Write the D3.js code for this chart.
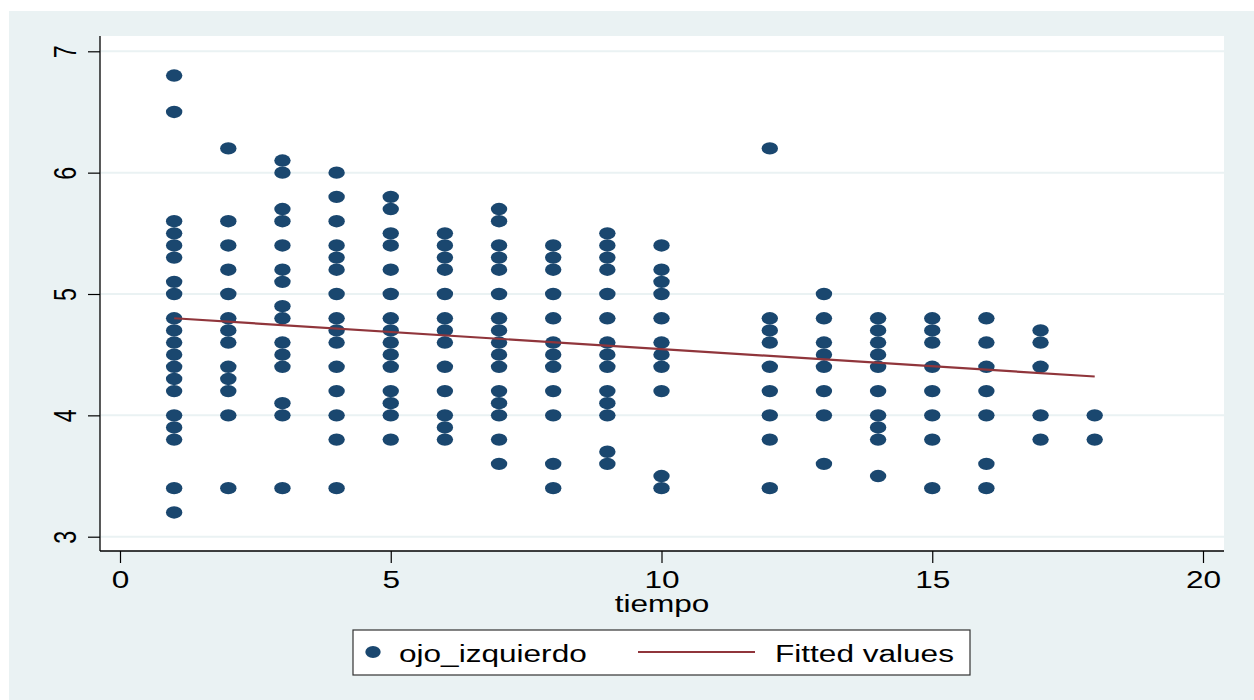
<!DOCTYPE html>
<html>
<head>
<meta charset="utf-8">
<script src="https://cdn.jsdelivr.net/npm/d3@7"></script>
<style>
  html, body { margin: 0; padding: 0; background: #ffffff; }
  svg { display: block; }
  text { font-family: "Liberation Sans", Arial, sans-serif; fill: #000; }
</style>
</head>
<body>
<svg id="chart" width="1254" height="700"></svg>
<script>
// ---- data ----
const tiempos = [1, 2, 3, 4, 5, 6, 7, 8, 9, 10, 12, 13, 14, 15, 16, 17, 18];
const ojoIzquierdo = [
  [6.8, 6.5, 5.6, 5.5, 5.4, 5.3, 5.1, 5.0, 4.8, 4.7, 4.6, 4.5, 4.4, 4.3, 4.2, 4.0, 3.9, 3.8, 3.4, 3.2],
  [6.2, 5.6, 5.4, 5.2, 5.0, 4.8, 4.7, 4.6, 4.4, 4.3, 4.2, 4.0, 3.4],
  [6.1, 6.0, 5.7, 5.6, 5.4, 5.2, 5.1, 4.9, 4.8, 4.6, 4.5, 4.4, 4.1, 4.0, 3.4],
  [6.0, 5.8, 5.6, 5.4, 5.3, 5.2, 5.0, 4.8, 4.7, 4.6, 4.4, 4.2, 4.0, 3.8, 3.4],
  [5.8, 5.7, 5.5, 5.4, 5.2, 5.0, 4.8, 4.7, 4.6, 4.5, 4.4, 4.2, 4.1, 4.0, 3.8],
  [5.5, 5.4, 5.3, 5.2, 5.0, 4.8, 4.7, 4.6, 4.4, 4.2, 4.0, 3.9, 3.8],
  [5.7, 5.6, 5.4, 5.3, 5.2, 5.0, 4.8, 4.7, 4.6, 4.5, 4.4, 4.2, 4.1, 4.0, 3.8, 3.6],
  [5.4, 5.3, 5.2, 5.0, 4.8, 4.6, 4.5, 4.4, 4.2, 4.0, 3.6, 3.4],
  [5.5, 5.4, 5.3, 5.2, 5.0, 4.8, 4.6, 4.5, 4.4, 4.2, 4.1, 4.0, 3.7, 3.6],
  [5.4, 5.2, 5.1, 5.0, 4.8, 4.6, 4.5, 4.4, 4.2, 3.5, 3.4],
  [6.2, 4.8, 4.7, 4.6, 4.4, 4.2, 4.0, 3.8, 3.4],
  [5.0, 4.8, 4.6, 4.5, 4.4, 4.2, 4.0, 3.6],
  [4.8, 4.7, 4.6, 4.5, 4.4, 4.2, 4.0, 3.9, 3.8, 3.5],
  [4.8, 4.7, 4.6, 4.4, 4.2, 4.0, 3.8, 3.4],
  [4.8, 4.6, 4.4, 4.2, 4.0, 3.6, 3.4],
  [4.7, 4.6, 4.4, 4.0, 3.8],
  [4.0, 3.8]
];
const fitX = [1, 18];
const fitY = [4.80, 4.32];
const xTicks = [0, 5, 10, 15, 20];
const yTicks = [3, 4, 5, 6, 7];
const xTitle = "tiempo";
const legendLabels = ["ojo_izquierdo", "Fitted values"];

// ---- styling / layout ----
const STRETCH = 1.355;
const FONT = 23.3;
const navy = "#1a476f";
const maroon = "#90353b";
const bg = "#eaf2f3";

const svg = d3.select("#chart");

// graph region background
svg.append("rect").attr("x", 9).attr("y", 11).attr("width", 1245).attr("height", 689).attr("fill", bg);
// plot region
const plot = { left: 100, right: 1224, top: 36, bottom: 551 };
svg.append("rect").attr("x", plot.left).attr("y", plot.top)
  .attr("width", plot.right - plot.left).attr("height", plot.bottom - plot.top).attr("fill", "#fff");

const x = d3.scaleLinear().domain([0, 20]).range([120, 1203]);
const y = d3.scaleLinear().domain([3, 7]).range([536.7, 51.3]);

// gridlines
svg.append("g").selectAll("line").data(yTicks).join("line")
  .attr("x1", plot.left + 1).attr("x2", plot.right)
  .attr("y1", d => y(d)).attr("y2", d => y(d))
  .attr("stroke", bg).attr("stroke-width", 2);

// points
const pts = [];
tiempos.forEach((t, i) => ojoIzquierdo[i].forEach(v => pts.push({ t, v })));
svg.append("g").selectAll("ellipse").data(pts).join("ellipse")
  .attr("cx", d => x(d.t)).attr("cy", d => y(d.v))
  .attr("rx", 8.2).attr("ry", 6.2).attr("fill", navy);

// fitted line
const fitData = fitX.map((t, i) => [t, fitY[i]]);
svg.append("path").datum(fitData)
  .attr("d", d3.line().x(d => x(d[0])).y(d => y(d[1])))
  .attr("fill", "none").attr("stroke", maroon).attr("stroke-width", 2.2);

// axes
const xAxis = svg.append("g").attr("transform", `translate(0,${plot.bottom})`)
  .call(d3.axisBottom(x).tickValues(xTicks).tickSize(12).tickSizeOuter(0).tickFormat(d3.format("d")));
xAxis.select(".domain").remove();
xAxis.selectAll(".tick line").attr("stroke", "#000").attr("stroke-width", 1.2);
xAxis.selectAll(".tick text")
  .attr("y", 0).attr("dy", null).attr("x", 0)
  .attr("font-size", FONT).attr("font-family", "Liberation Sans, Arial, sans-serif")
  .attr("fill", "#000")
  .attr("transform", `translate(0,37) scale(${STRETCH},1)`);

const yAxis = svg.append("g").attr("transform", `translate(${plot.left},0)`)
  .call(d3.axisLeft(y).tickValues(yTicks).tickSize(12).tickSizeOuter(0).tickFormat(d3.format("d")));
yAxis.select(".domain").remove();
yAxis.selectAll(".tick line").attr("stroke", "#000").attr("stroke-width", 1.2);
yAxis.selectAll(".tick text")
  .attr("x", 0).attr("y", 0).attr("dy", null)
  .attr("text-anchor", "middle")
  .attr("font-size", FONT).attr("font-family", "Liberation Sans, Arial, sans-serif")
  .attr("fill", "#000")
  .attr("transform", `translate(-24,0) scale(${STRETCH},1) rotate(-90)`);

// axis lines
svg.append("line").attr("x1", plot.left).attr("x2", plot.left).attr("y1", plot.top).attr("y2", plot.bottom)
  .attr("stroke", "#000").attr("stroke-width", 1.3);
svg.append("line").attr("x1", plot.left).attr("x2", plot.right).attr("y1", plot.bottom).attr("y2", plot.bottom)
  .attr("stroke", "#000").attr("stroke-width", 1.3);

// x axis title
svg.append("text").attr("text-anchor", "middle").attr("font-size", FONT)
  .attr("transform", `translate(662,612) scale(${STRETCH},1)`).text(xTitle);

// legend
const lg = svg.append("g");
lg.append("rect").attr("x", 353).attr("y", 630).attr("width", 617).attr("height", 45)
  .attr("fill", "#fff").attr("stroke", "#333").attr("stroke-width", 1.2);
lg.append("ellipse").attr("cx", 373).attr("cy", 652).attr("rx", 7.7).attr("ry", 6).attr("fill", navy);
lg.append("text").attr("font-size", FONT)
  .attr("transform", `translate(399,662) scale(${STRETCH},1)`).text(legendLabels[0]);
lg.append("line").attr("x1", 638).attr("x2", 755).attr("y1", 652).attr("y2", 652)
  .attr("stroke", maroon).attr("stroke-width", 2.2);
lg.append("text").attr("font-size", FONT)
  .attr("transform", `translate(775,662) scale(${STRETCH},1)`).text(legendLabels[1]);
</script>
</body>
</html>
